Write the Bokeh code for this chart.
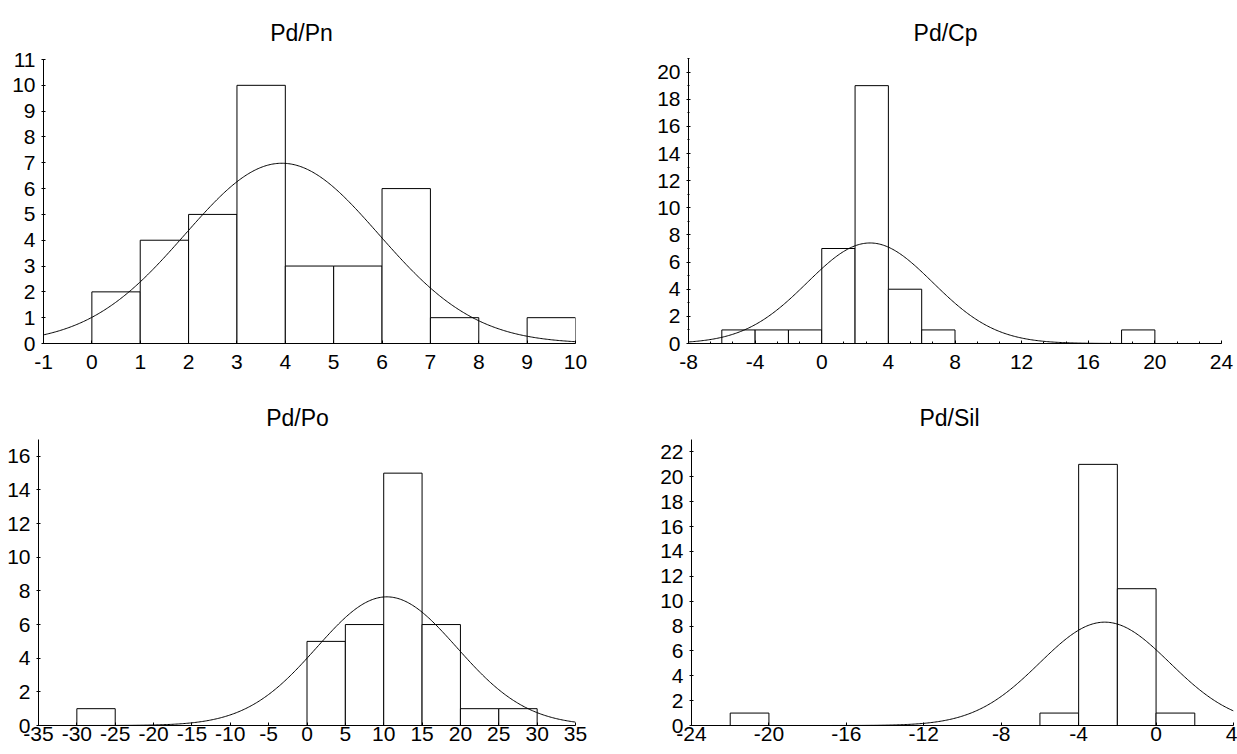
import numpy as np
from bokeh.plotting import figure
from bokeh.layouts import row, column
from bokeh.models import Range1d, FixedTicker, Label
from bokeh.embed import file_html
from bokeh.resources import INLINE

FONT = "Liberation Sans"

# ---------------- data ----------------
# Pd/Pn
pn_left = [-1, 0, 1, 2, 3, 4, 5, 6, 7, 8, 9]
pn_right = [0, 1, 2, 3, 4, 5, 6, 7, 8, 9, 10]
pn_counts = [0, 2, 4, 5, 10, 3, 3, 6, 1, 0, 1]
pn_fit = dict(n=35, bw=1, mean=3.93, sd=2.0)
pn_xticks = [-1, 0, 1, 2, 3, 4, 5, 6, 7, 8, 9, 10]
pn_yticks = [0, 1, 2, 3, 4, 5, 6, 7, 8, 9, 10, 11]

# Pd/Cp
cp_left = [-8, -6, -4, -2, 0, 2, 4, 6, 8, 10, 12, 14, 16, 18, 20, 22]
cp_right = [-6, -4, -2, 0, 2, 4, 6, 8, 10, 12, 14, 16, 18, 20, 22, 24]
cp_counts = [0, 1, 1, 1, 7, 19, 4, 1, 0, 0, 0, 0, 0, 1, 0, 0]
cp_fit = dict(n=35, bw=2, mean=2.9, sd=3.77)
cp_xticks = [-8, -4, 0, 4, 8, 12, 16, 20, 24]
cp_yticks = [0, 2, 4, 6, 8, 10, 12, 14, 16, 18, 20]
cp_yminor = [1, 3, 5, 7, 9, 11, 13, 15, 17, 19, 21]

# Pd/Po
po_left = [-35, -30, -25, -20, -15, -10, -5, 0, 5, 10, 15, 20, 25]
po_right = [-30, -25, -20, -15, -10, -5, 0, 5, 10, 15, 20, 25, 30]
po_counts = [0, 1, 0, 0, 0, 0, 0, 5, 6, 15, 6, 1, 1]
po_fit = dict(n=35, bw=5, mean=10.4, sd=9.13)
po_xticks = [-35, -30, -25, -20, -15, -10, -5, 0, 5, 10, 15, 20, 25, 30, 35]
po_yticks = [0, 2, 4, 6, 8, 10, 12, 14, 16]

# Pd/Sil
sil_left = [-24, -22, -20, -18, -16, -14, -12, -10, -8, -6, -4, -2, 0]
sil_right = [-22, -20, -18, -16, -14, -12, -10, -8, -6, -4, -2, 0, 2]
sil_counts = [0, 1, 0, 0, 0, 0, 0, 0, 0, 1, 21, 11, 1]
sil_fit = dict(n=35, bw=2, mean=-2.65, sd=3.36)
sil_xticks = [-24, -20, -16, -12, -8, -4, 0, 4]
sil_yticks = [0, 2, 4, 6, 8, 10, 12, 14, 16, 18, 20, 22]


def normal_curve(fit, x0, x1):
    x = np.linspace(x0, x1, 400)
    y = fit["n"] * fit["bw"] / (fit["sd"] * np.sqrt(2 * np.pi)) * np.exp(
        -0.5 * ((x - fit["mean"]) / fit["sd"]) ** 2)
    return x, y


def panel(title, left, right, counts, fit, xr, ymax, xticks, yticks,
          fw, fh, top_px, bl, br, bb, x_standoff, title_x, title_y,
          yminor=None, x_num_minor=None):
    # frame reaches the top of the figure; the data area starts top_px below it,
    # the space above holds the title and the y axis is bounded to [0, ymax]
    y_end = ymax * fh / (fh - top_px)
    p = figure(frame_width=fw, frame_height=fh,
               min_border_left=bl, min_border_right=br,
               min_border_top=0, min_border_bottom=bb,
               x_range=Range1d(*xr), y_range=Range1d(0, y_end),
               output_backend="svg", toolbar_location=None,
               background_fill_color="white", border_fill_color="white")
    p.outline_line_color = None
    p.xgrid.visible = False
    p.ygrid.visible = False

    p.add_layout(Label(x=title_x, y=title_y, x_units="screen", y_units="screen",
                       text=title, text_align="center", text_baseline="alphabetic",
                       text_font=FONT, text_font_size="23px", text_color="black"))

    p.quad(left=left, right=right, bottom=0, top=counts,
           fill_color="white", line_color="black", line_width=1)
    cx, cy = normal_curve(fit, xr[0], xr[1])
    p.line(cx, cy, line_color="black", line_width=1)

    xt = FixedTicker(ticks=xticks)
    if x_num_minor:
        step = (xticks[1] - xticks[0]) / x_num_minor
        minors = []
        for t in xticks[:-1]:
            for k in range(1, x_num_minor):
                minors.append(t + k * step)
        xt.minor_ticks = minors
    p.xaxis.ticker = xt
    p.xaxis.major_label_overrides = {t: str(t) for t in xticks}
    yt = FixedTicker(ticks=yticks)
    if yminor:
        yt.minor_ticks = yminor
    p.yaxis.ticker = yt
    p.yaxis.major_label_overrides = {t: str(t) for t in yticks}
    p.yaxis.bounds = (0, ymax)

    for ax in (p.xaxis[0], p.yaxis[0]):
        ax.axis_line_color = "black"
        ax.axis_line_width = 1
        ax.major_tick_line_color = "black"
        ax.minor_tick_line_color = "black"
        ax.major_label_text_font = FONT
        ax.major_label_text_font_size = "21px"
        ax.major_label_text_color = "black"
    p.xaxis.major_tick_in = 3
    p.xaxis.major_tick_out = 0
    p.xaxis.minor_tick_in = 2
    p.xaxis.minor_tick_out = 0
    p.xaxis.major_label_standoff = x_standoff
    p.yaxis.major_tick_in = 2
    p.yaxis.major_tick_out = 2
    p.yaxis.minor_tick_in = 1
    p.yaxis.minor_tick_out = 1
    p.yaxis.major_label_standoff = 6
    return p


p1 = panel("Pd/Pn", pn_left, pn_right, pn_counts, pn_fit, (-1, 10), 11,
           pn_xticks, pn_yticks, fw=532, fh=343, top_px=59, bl=43, br=55, bb=42,
           x_standoff=11, title_x=258, title_y=311)
p2 = panel("Pd/Cp", cp_left, cp_right, cp_counts, cp_fit, (-8, 24), 21,
           cp_xticks, cp_yticks, fw=533, fh=343, top_px=58, bl=58, br=16, bb=42,
           x_standoff=11, title_x=257, title_y=311, yminor=cp_yminor, x_num_minor=3)
p3 = panel("Pd/Po", po_left, po_right, po_counts, po_fit, (-35, 35), 17,
           po_xticks, po_yticks, fw=537, fh=340, top_px=54, bl=38, br=55, bb=29,
           x_standoff=1, title_x=259, title_y=308)
p4 = panel("Pd/Sil", sil_left, sil_right, sil_counts, sil_fit, (-24, 4), 23,
           sil_xticks, sil_yticks, fw=542, fh=340, top_px=54, bl=61, br=4, bb=29,
           x_standoff=1, title_x=258, title_y=308)

layout = column(row(p1, p2), row(p3, p4))
open("out.html", "w").write(file_html(layout, INLINE))
